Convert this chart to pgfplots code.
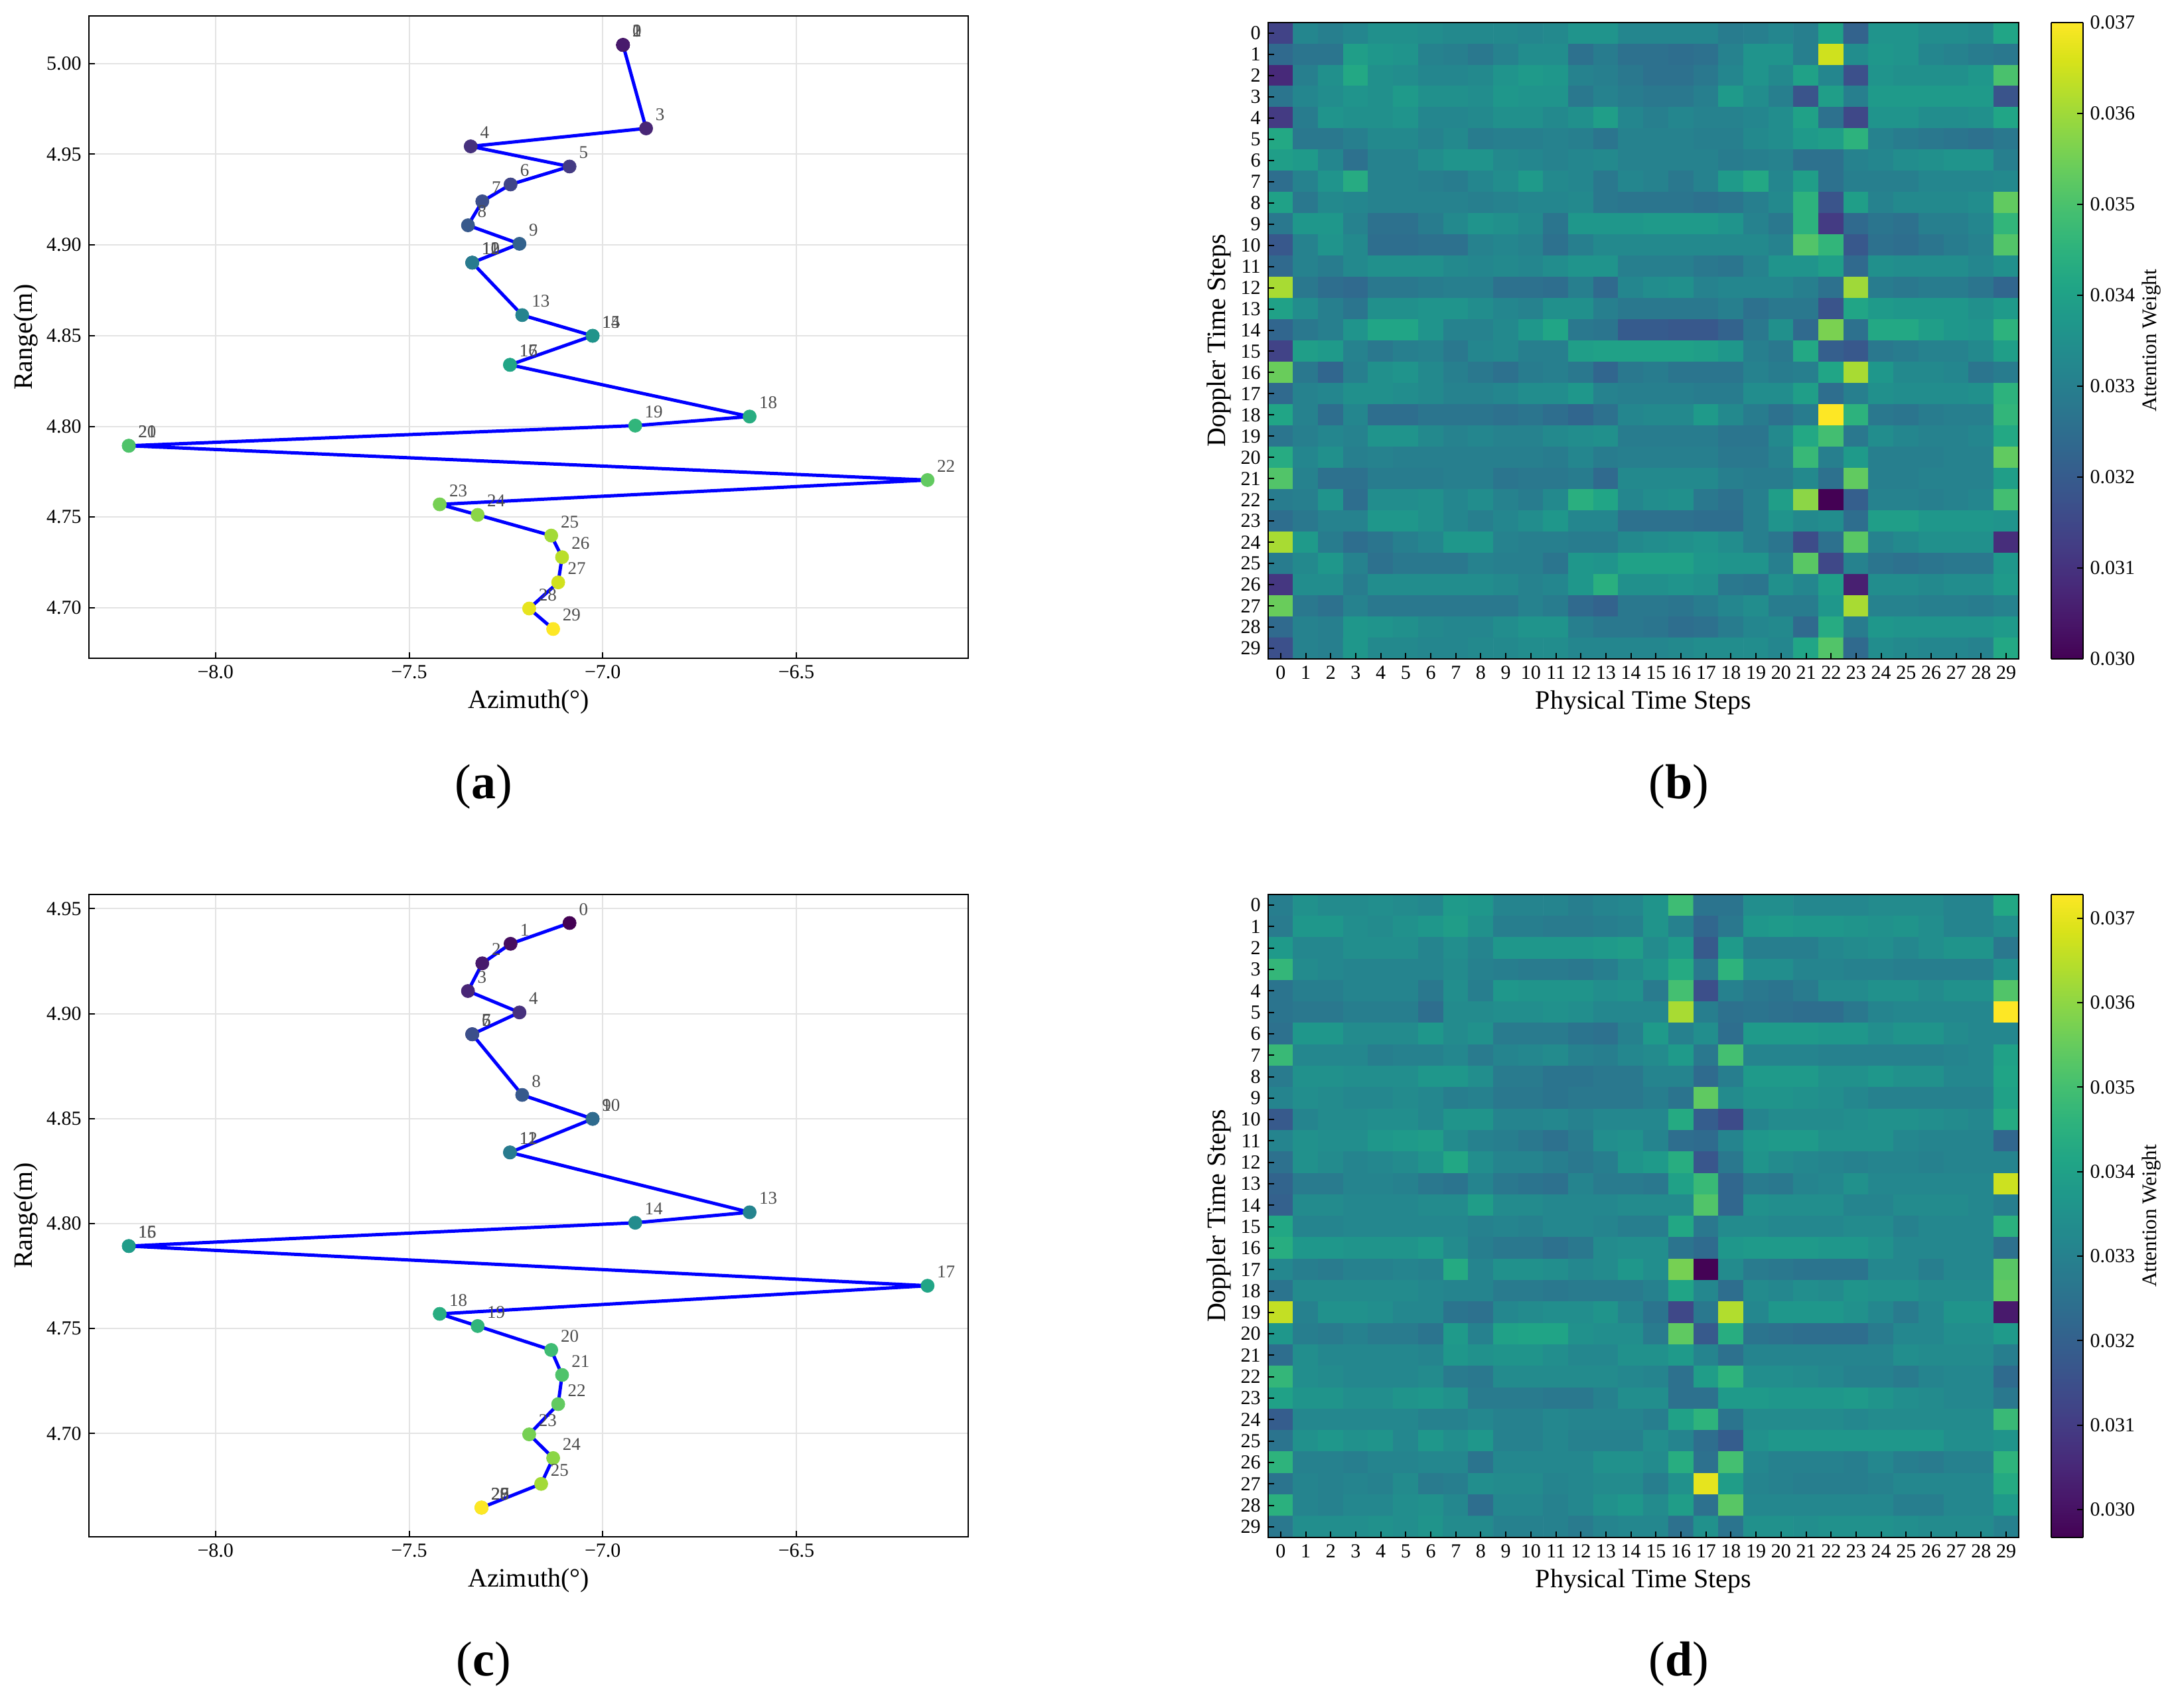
\documentclass[border=0pt]{standalone}
\usepackage{fontspec}
\setmainfont{Liberation Serif}
\usepackage{pgfplots}
\usepackage{pgfplotstable}
\pgfplotsset{compat=1.18}

% trajectories: index, azimuth, range
\pgfplotstableread{
i x y
0 -6.9476 5.0102
1 -6.9476 5.0102
2 -6.9476 5.0102
3 -6.888 4.9642
4 -7.341 4.9543
5 -7.0857 4.9432
6 -7.238 4.9333
7 -7.311 4.924
8 -7.348 4.9108
9 -7.215 4.9006
10 -7.337 4.8902
11 -7.337 4.8902
12 -7.337 4.8902
13 -7.208 4.8613
14 -7.026 4.8499
15 -7.026 4.8499
16 -7.2395 4.8339
17 -7.2395 4.8339
18 -6.6206 4.8054
19 -6.916 4.8004
20 -8.224 4.7893
21 -8.224 4.7893
22 -6.161 4.7704
23 -7.421 4.757
24 -7.323 4.7512
25 -7.133 4.7398
26 -7.105 4.7279
27 -7.115 4.714
28 -7.19 4.6996
29 -7.128 4.6883
}\traja

\pgfplotstableread{
i x y
0 -7.0857 4.9432
1 -7.238 4.9333
2 -7.311 4.924
3 -7.348 4.9108
4 -7.215 4.9006
5 -7.337 4.8902
6 -7.337 4.8902
7 -7.337 4.8902
8 -7.208 4.8613
9 -7.026 4.8499
10 -7.026 4.8499
11 -7.2395 4.8339
12 -7.2395 4.8339
13 -6.6206 4.8054
14 -6.916 4.8004
15 -8.224 4.7893
16 -8.224 4.7893
17 -6.161 4.7704
18 -7.421 4.757
19 -7.323 4.7512
20 -7.133 4.7398
21 -7.105 4.7279
22 -7.115 4.714
23 -7.19 4.6996
24 -7.128 4.6883
25 -7.159 4.676
26 -7.313 4.6647
27 -7.313 4.6647
28 -7.313 4.6647
29 -7.313 4.6647
}\trajc

% attention weights in units of 0.001, row by row
\pgfplotstableread[row sep=crcr]{
z\\
31.4\\33.2\\33.0\\33.2\\33.5\\33.5\\33.4\\33.3\\33.3\\33.3\\33.2\\33.3\\33.6\\33.6\\33.2\\33.2\\33.2\\33.2\\32.9\\33.0\\33.2\\33.0\\34.0\\32.2\\33.6\\33.6\\33.4\\33.4\\33.3\\34.1\\
32.4\\32.7\\32.7\\33.9\\33.7\\33.6\\33.1\\33.0\\32.8\\33.1\\33.4\\33.4\\32.6\\32.9\\32.6\\32.6\\32.5\\32.6\\33.1\\33.6\\33.6\\33.0\\36.5\\33.4\\33.7\\33.6\\33.2\\33.1\\32.9\\32.8\\
30.8\\33.0\\33.5\\34.2\\33.5\\33.4\\33.2\\33.2\\33.3\\33.6\\33.8\\33.7\\33.1\\33.0\\32.8\\32.6\\32.6\\32.8\\33.2\\33.6\\33.3\\34.0\\33.2\\31.7\\33.6\\33.5\\33.5\\33.5\\33.7\\35.0\\
32.7\\33.2\\33.4\\33.6\\33.5\\33.8\\33.5\\33.5\\33.4\\33.7\\33.6\\33.6\\32.8\\33.1\\32.9\\32.8\\32.8\\33.0\\33.8\\33.4\\33.0\\31.8\\33.9\\33.0\\33.8\\33.8\\33.8\\33.8\\33.8\\31.8\\
31.2\\32.9\\33.6\\33.5\\33.5\\33.6\\33.2\\33.2\\33.3\\33.5\\33.5\\33.3\\33.5\\33.9\\33.2\\33.0\\33.2\\33.1\\33.1\\33.2\\33.4\\34.0\\32.6\\31.5\\33.6\\33.6\\33.4\\33.4\\33.5\\34.1\\
34.2\\32.8\\32.8\\33.0\\33.3\\33.3\\33.1\\33.3\\32.9\\33.0\\33.0\\33.1\\33.0\\32.7\\33.1\\33.1\\33.1\\33.0\\33.0\\33.3\\33.4\\33.8\\33.9\\34.5\\33.1\\32.9\\32.8\\32.7\\32.6\\32.8\\
33.9\\33.8\\33.2\\32.6\\33.1\\33.1\\33.4\\33.6\\33.6\\33.3\\33.2\\33.1\\33.2\\33.3\\33.1\\33.1\\33.1\\33.1\\32.9\\33.0\\33.1\\32.6\\32.6\\33.1\\33.2\\33.4\\33.5\\33.6\\33.6\\33.0\\
32.5\\33.1\\33.6\\34.3\\33.1\\33.1\\33.0\\32.9\\33.2\\33.4\\33.8\\33.3\\33.2\\32.8\\33.2\\33.1\\32.8\\33.1\\33.8\\34.2\\33.2\\33.9\\32.6\\33.0\\33.0\\33.0\\33.2\\33.2\\33.2\\33.3\\
34.0\\32.8\\33.3\\33.2\\33.1\\33.1\\33.1\\33.1\\33.0\\33.1\\33.2\\33.2\\33.3\\32.8\\32.7\\32.7\\32.7\\32.6\\32.7\\33.0\\33.3\\34.5\\31.8\\33.9\\33.1\\33.3\\33.3\\33.3\\33.4\\35.3\\
32.8\\33.7\\33.7\\33.1\\32.6\\32.6\\32.9\\33.3\\33.6\\33.5\\33.3\\32.7\\33.7\\33.7\\33.7\\33.8\\33.8\\33.8\\33.6\\33.1\\32.8\\34.5\\31.2\\32.4\\32.7\\32.6\\33.0\\33.0\\33.2\\34.6\\
31.9\\33.1\\33.6\\33.3\\32.5\\32.5\\32.6\\32.6\\33.1\\33.2\\33.1\\32.6\\33.0\\33.3\\33.3\\33.3\\33.3\\33.3\\33.3\\33.3\\33.1\\35.1\\34.6\\31.9\\32.6\\32.5\\32.7\\32.9\\33.1\\35.1\\
32.4\\33.1\\32.9\\33.3\\33.5\\33.5\\33.5\\33.3\\33.2\\33.3\\33.2\\33.4\\33.6\\33.6\\33.0\\33.0\\33.0\\32.8\\32.7\\33.1\\33.6\\33.6\\33.9\\32.4\\33.5\\33.4\\33.4\\33.4\\33.2\\33.5\\
36.1\\32.8\\32.5\\32.4\\32.8\\32.8\\32.9\\33.0\\33.0\\32.6\\32.6\\32.5\\33.0\\32.4\\33.2\\33.4\\33.5\\33.1\\33.2\\33.2\\33.2\\33.0\\32.6\\36.0\\32.9\\32.8\\32.9\\32.9\\32.7\\32.3\\
34.0\\33.4\\33.0\\32.7\\33.5\\33.5\\33.6\\33.6\\33.4\\33.2\\33.1\\33.5\\33.5\\33.0\\32.8\\32.8\\32.8\\32.8\\33.0\\32.6\\32.8\\32.8\\31.8\\34.1\\33.8\\33.7\\33.7\\33.7\\33.5\\33.8\\
32.3\\32.8\\33.0\\33.6\\34.1\\34.1\\33.6\\33.1\\33.1\\33.3\\33.7\\34.1\\32.8\\32.7\\32.0\\32.0\\31.9\\31.9\\32.2\\32.8\\33.5\\32.4\\35.6\\32.6\\34.2\\34.2\\33.9\\33.7\\33.6\\34.5\\
31.4\\33.9\\33.8\\33.1\\32.8\\33.0\\33.1\\32.8\\33.2\\33.3\\33.0\\33.0\\33.9\\34.0\\34.0\\34.0\\34.0\\33.9\\33.7\\33.0\\32.8\\34.2\\32.1\\31.9\\32.8\\32.9\\33.1\\33.1\\33.3\\33.9\\
35.4\\32.8\\32.3\\33.0\\33.5\\33.6\\33.3\\33.0\\32.8\\32.6\\32.9\\33.0\\32.8\\32.3\\32.8\\32.9\\32.7\\32.7\\32.7\\33.1\\32.9\\33.0\\34.1\\36.1\\33.7\\33.3\\33.3\\33.2\\32.7\\32.9\\
32.4\\33.1\\33.2\\33.5\\33.5\\33.4\\33.3\\33.1\\33.1\\33.2\\33.4\\33.4\\33.7\\33.1\\33.0\\33.0\\33.0\\32.9\\32.9\\33.4\\33.4\\33.9\\32.5\\33.0\\33.5\\33.4\\33.4\\33.4\\33.5\\34.5\\
34.1\\33.1\\32.5\\33.2\\32.5\\32.5\\32.7\\32.7\\32.7\\32.6\\32.7\\32.5\\32.3\\32.6\\33.2\\33.3\\33.3\\33.8\\33.3\\32.9\\32.6\\32.9\\37.0\\34.5\\32.8\\32.7\\32.9\\33.0\\33.0\\34.6\\
32.7\\33.0\\33.2\\33.1\\33.6\\33.6\\33.3\\33.1\\33.2\\33.1\\33.1\\33.3\\33.4\\33.5\\32.9\\32.9\\32.9\\32.9\\32.7\\32.7\\33.3\\34.2\\34.9\\32.8\\33.4\\33.2\\33.1\\33.1\\33.2\\34.2\\
34.3\\33.2\\33.5\\33.0\\33.1\\33.0\\33.0\\33.0\\33.0\\33.0\\33.0\\32.9\\33.2\\32.9\\33.0\\33.0\\33.0\\33.0\\32.8\\32.8\\33.1\\34.7\\33.0\\33.8\\33.0\\33.0\\33.0\\33.1\\33.1\\35.3\\
35.1\\33.1\\32.6\\32.6\\32.9\\32.9\\32.9\\33.0\\33.0\\32.7\\32.8\\32.8\\32.9\\32.4\\33.3\\33.3\\33.3\\33.3\\33.0\\32.9\\32.9\\33.3\\32.6\\35.3\\33.0\\33.0\\33.1\\33.1\\33.1\\33.9\\
32.9\\33.0\\33.6\\32.5\\33.4\\33.4\\33.5\\33.2\\33.4\\33.1\\32.9\\33.3\\34.4\\34.1\\33.2\\33.4\\33.5\\32.8\\32.6\\33.0\\33.9\\35.8\\30.0\\32.1\\33.1\\33.1\\33.0\\33.1\\33.2\\34.9\\
32.5\\32.8\\33.1\\33.1\\33.7\\33.7\\33.5\\33.2\\33.0\\33.2\\33.4\\33.7\\33.2\\33.2\\32.6\\32.6\\32.6\\32.5\\32.5\\33.0\\33.6\\33.3\\33.4\\32.5\\33.9\\33.9\\33.7\\33.7\\33.7\\33.6\\
36.1\\33.8\\32.9\\32.5\\32.7\\33.0\\33.2\\33.7\\33.7\\33.1\\33.0\\33.0\\32.9\\32.9\\33.3\\33.4\\33.5\\33.6\\33.4\\33.0\\32.7\\31.6\\32.6\\35.2\\33.1\\33.3\\33.5\\33.5\\33.5\\30.9\\
32.9\\33.3\\33.7\\33.1\\32.6\\32.8\\32.8\\32.8\\33.1\\33.0\\33.0\\32.7\\33.7\\33.6\\34.0\\34.0\\34.0\\33.7\\33.6\\33.6\\33.0\\35.2\\31.5\\33.1\\32.7\\32.6\\32.7\\32.8\\32.8\\33.7\\
31.1\\33.4\\33.4\\32.9\\33.4\\33.4\\33.4\\33.4\\33.4\\33.3\\33.1\\33.2\\33.7\\34.4\\33.5\\33.5\\33.6\\33.5\\32.8\\32.7\\33.5\\33.2\\33.9\\30.6\\33.4\\33.4\\33.3\\33.4\\33.4\\33.8\\
35.4\\32.8\\32.6\\33.1\\32.8\\32.8\\32.8\\32.8\\32.8\\32.8\\33.1\\32.9\\32.4\\32.2\\32.8\\32.8\\32.7\\32.9\\33.2\\33.4\\32.9\\32.9\\33.7\\36.1\\33.1\\33.1\\33.0\\33.0\\32.9\\33.1\\
32.4\\33.1\\33.0\\33.7\\33.6\\33.5\\33.3\\33.2\\33.2\\33.4\\33.6\\33.6\\33.0\\32.8\\32.8\\32.7\\32.5\\32.6\\32.9\\33.2\\33.3\\32.4\\34.3\\32.9\\33.7\\33.6\\33.6\\33.6\\33.6\\33.8\\
31.7\\33.1\\33.0\\33.7\\33.3\\33.3\\33.2\\33.2\\33.3\\33.3\\33.4\\33.4\\33.2\\33.2\\33.2\\33.2\\33.3\\33.4\\33.4\\33.4\\33.2\\34.1\\35.1\\32.4\\33.4\\33.3\\33.2\\33.2\\33.1\\34.2\\
}\matb

\pgfplotstableread[row sep=crcr]{
z\\
32.9\\33.5\\33.3\\33.3\\33.4\\33.3\\33.2\\33.8\\33.7\\33.1\\33.1\\33.1\\32.9\\33.1\\33.2\\33.6\\34.9\\32.6\\32.6\\33.4\\33.4\\33.2\\33.2\\33.2\\33.3\\33.3\\33.3\\33.1\\33.1\\34.2\\
32.8\\33.7\\33.7\\33.4\\33.3\\33.5\\33.7\\33.9\\33.5\\32.9\\32.9\\32.8\\32.8\\32.9\\33.0\\33.6\\33.0\\32.2\\32.7\\33.7\\33.8\\33.7\\33.7\\33.6\\33.5\\33.6\\33.4\\33.1\\33.1\\33.4\\
33.8\\33.2\\33.2\\33.4\\33.4\\33.4\\33.1\\33.4\\33.1\\33.7\\33.7\\33.7\\33.7\\33.8\\33.9\\33.3\\33.8\\31.8\\33.8\\32.9\\32.9\\32.9\\33.2\\33.3\\33.4\\33.2\\33.4\\33.6\\33.6\\32.7\\
34.7\\33.3\\33.2\\33.1\\33.1\\33.1\\33.1\\33.3\\33.0\\32.9\\32.8\\32.8\\32.7\\32.9\\33.3\\33.6\\34.3\\32.7\\34.6\\33.4\\33.4\\33.1\\33.1\\33.0\\33.0\\32.9\\32.9\\32.9\\32.9\\33.5\\
32.6\\32.9\\32.9\\33.1\\33.1\\33.1\\32.7\\33.4\\32.9\\33.7\\33.6\\33.6\\33.6\\33.4\\33.5\\32.8\\35.0\\31.5\\33.0\\32.7\\32.6\\32.8\\33.3\\33.3\\33.5\\33.5\\33.3\\33.5\\33.5\\35.2\\
32.6\\32.7\\32.7\\32.9\\32.9\\32.9\\32.4\\33.3\\33.3\\33.4\\33.4\\33.5\\33.4\\33.2\\33.2\\33.2\\36.3\\32.9\\32.5\\32.6\\32.5\\32.4\\32.4\\32.7\\33.1\\33.2\\33.2\\33.2\\33.2\\37.3\\
32.5\\33.7\\33.7\\33.3\\33.3\\33.3\\33.7\\33.3\\33.5\\32.8\\32.8\\32.8\\32.6\\32.5\\33.0\\33.8\\33.0\\33.4\\32.4\\33.8\\33.8\\33.8\\33.7\\33.7\\33.4\\33.6\\33.6\\33.3\\33.2\\33.2\\
34.8\\33.2\\33.2\\33.2\\32.9\\33.0\\33.0\\33.2\\32.8\\33.1\\33.2\\33.3\\33.0\\32.9\\33.2\\33.3\\33.8\\32.7\\35.0\\33.1\\33.1\\33.1\\33.0\\33.0\\33.0\\33.0\\33.0\\33.1\\33.2\\34.0\\
32.8\\33.5\\33.5\\33.4\\33.4\\33.4\\33.7\\33.7\\33.4\\32.8\\32.8\\32.6\\32.6\\32.7\\32.7\\33.1\\33.1\\32.3\\32.9\\33.8\\33.8\\33.8\\33.5\\33.5\\33.7\\33.5\\33.5\\33.2\\33.2\\34.1\\
33.1\\33.4\\33.3\\33.2\\33.2\\33.3\\33.2\\32.9\\33.0\\32.7\\32.7\\32.6\\32.7\\32.7\\32.7\\32.9\\32.6\\35.4\\33.3\\33.6\\33.6\\33.5\\33.4\\33.2\\33.0\\33.0\\33.0\\33.0\\33.0\\34.0\\
31.8\\33.1\\33.3\\33.3\\33.4\\33.4\\33.2\\33.6\\33.6\\33.1\\33.1\\33.2\\33.0\\33.2\\33.2\\33.2\\34.3\\31.9\\31.4\\33.1\\33.3\\33.3\\33.3\\33.4\\33.5\\33.5\\33.4\\33.3\\33.2\\34.3\\
33.1\\33.5\\33.4\\33.4\\33.7\\33.8\\33.9\\33.3\\33.0\\32.9\\32.7\\32.5\\32.8\\33.4\\33.5\\33.1\\32.4\\32.3\\33.1\\33.7\\33.8\\33.8\\33.5\\33.5\\33.5\\33.2\\33.1\\33.1\\33.1\\32.2\\
32.5\\33.5\\33.3\\33.1\\33.2\\33.3\\33.6\\34.2\\33.4\\33.1\\33.1\\32.9\\32.7\\32.9\\33.6\\33.8\\34.4\\31.7\\32.7\\33.6\\33.3\\33.2\\33.1\\33.0\\33.1\\33.1\\33.0\\33.1\\33.1\\33.1\\
32.1\\32.8\\32.8\\33.1\\33.1\\33.0\\32.7\\32.6\\33.1\\32.7\\32.6\\32.5\\33.1\\32.8\\32.8\\32.7\\34.0\\34.8\\32.2\\32.8\\32.7\\33.1\\33.2\\33.5\\33.2\\33.2\\33.2\\33.2\\33.2\\36.7\\
32.0\\33.3\\33.3\\33.2\\33.2\\33.2\\33.3\\33.3\\33.9\\33.3\\33.3\\33.2\\33.2\\33.2\\33.3\\33.3\\33.3\\35.2\\32.2\\33.5\\33.4\\33.4\\33.4\\33.1\\33.1\\33.3\\33.3\\33.3\\33.2\\32.9\\
34.2\\33.1\\33.1\\33.2\\33.2\\33.2\\33.2\\33.2\\33.0\\33.1\\33.0\\33.2\\33.2\\33.1\\32.9\\32.9\\34.2\\32.7\\33.3\\33.3\\33.2\\33.2\\33.2\\33.3\\33.3\\33.0\\33.2\\33.2\\33.2\\34.5\\
34.4\\33.7\\33.7\\33.6\\33.6\\33.6\\33.8\\33.3\\32.9\\32.7\\32.7\\32.5\\32.7\\33.3\\33.4\\33.4\\32.6\\32.3\\33.7\\33.8\\33.8\\33.8\\33.7\\33.7\\33.5\\33.2\\33.2\\33.2\\33.2\\32.5\\
33.2\\32.9\\32.8\\33.0\\33.0\\33.1\\33.0\\34.3\\33.1\\33.5\\33.5\\33.4\\33.2\\33.3\\33.7\\33.4\\35.7\\29.7\\33.3\\32.8\\32.7\\32.6\\32.6\\32.6\\33.2\\33.2\\32.9\\33.2\\33.2\\35.3\\
32.6\\33.3\\33.3\\33.3\\33.3\\33.3\\33.2\\33.1\\33.1\\32.8\\32.8\\32.7\\32.8\\32.8\\32.8\\33.0\\34.1\\33.2\\32.4\\33.3\\33.2\\33.4\\33.3\\33.6\\33.5\\33.5\\33.3\\33.3\\33.3\\35.4\\
36.6\\33.0\\33.5\\33.5\\33.4\\33.2\\33.2\\32.6\\32.5\\33.2\\33.3\\33.4\\33.4\\33.6\\33.1\\32.6\\31.3\\32.7\\36.4\\33.2\\33.7\\33.7\\33.7\\33.5\\33.2\\32.8\\33.2\\33.6\\33.6\\30.2\\
33.7\\32.9\\32.8\\33.0\\32.8\\32.8\\32.6\\33.8\\33.0\\34.0\\34.1\\34.1\\33.5\\33.4\\33.4\\32.8\\35.4\\31.8\\34.4\\32.6\\32.5\\32.4\\32.4\\32.4\\32.8\\33.2\\33.2\\33.4\\33.4\\33.8\\
32.4\\33.4\\33.2\\33.2\\33.2\\33.2\\33.1\\33.7\\33.5\\33.6\\33.6\\33.4\\33.2\\33.2\\33.5\\33.5\\33.8\\33.1\\32.5\\33.1\\33.1\\33.1\\33.1\\33.1\\33.1\\33.4\\33.3\\33.3\\33.3\\32.9\\
34.7\\33.4\\33.3\\33.2\\33.2\\33.2\\33.3\\32.8\\32.7\\33.3\\33.3\\33.3\\33.3\\33.3\\33.2\\33.1\\32.5\\33.9\\34.6\\33.4\\33.4\\33.3\\33.2\\33.0\\33.0\\32.8\\33.1\\33.2\\33.2\\32.3\\
34.0\\33.6\\33.6\\33.4\\33.4\\33.6\\33.7\\33.5\\32.8\\32.8\\32.8\\32.7\\32.7\\33.0\\33.4\\33.4\\32.5\\32.5\\33.8\\33.8\\33.7\\33.7\\33.7\\33.8\\33.6\\33.4\\33.3\\33.2\\33.2\\32.7\\
31.9\\33.2\\33.2\\33.2\\33.2\\33.2\\33.0\\33.0\\33.2\\33.0\\33.0\\33.2\\33.1\\33.1\\33.1\\32.9\\34.0\\34.6\\32.6\\33.3\\33.3\\33.3\\33.3\\33.2\\33.3\\33.3\\33.3\\33.3\\33.3\\34.8\\
32.6\\33.5\\33.7\\33.5\\33.6\\33.2\\33.7\\33.4\\33.7\\33.0\\33.0\\33.2\\33.0\\33.0\\33.0\\33.4\\33.1\\32.4\\31.9\\33.5\\33.7\\33.7\\33.7\\33.7\\33.7\\33.7\\33.7\\33.4\\33.4\\33.6\\
34.6\\33.0\\33.0\\32.9\\33.1\\33.1\\33.2\\33.2\\32.6\\33.2\\33.2\\33.2\\33.2\\33.5\\33.5\\33.3\\34.4\\32.5\\35.0\\33.2\\33.0\\33.0\\33.0\\32.9\\33.2\\32.9\\32.8\\33.0\\33.0\\34.6\\
32.6\\33.1\\33.0\\33.1\\33.0\\33.3\\32.8\\32.9\\33.4\\33.3\\33.3\\33.1\\33.2\\33.3\\33.3\\32.9\\33.5\\37.0\\33.9\\33.1\\33.0\\32.9\\32.9\\32.9\\33.0\\33.2\\33.2\\33.2\\33.2\\34.3\\
34.5\\33.1\\33.0\\33.2\\33.2\\33.4\\33.5\\33.2\\32.4\\33.2\\33.2\\33.0\\33.2\\33.5\\33.7\\33.3\\33.9\\32.5\\35.3\\33.2\\33.2\\33.2\\33.2\\33.2\\33.2\\32.9\\32.9\\33.2\\33.2\\33.8\\
32.7\\33.4\\33.4\\33.4\\33.5\\33.4\\33.6\\33.3\\33.3\\33.0\\33.0\\33.0\\32.8\\33.1\\33.2\\33.2\\32.5\\33.5\\32.6\\33.5\\33.5\\33.4\\33.5\\33.5\\33.5\\33.4\\33.3\\33.3\\33.3\\33.0\\
}\matd

\pgfplotsset{
  common/.style={
    scale only axis,
    anchor=south west,
    axis line style={line width=1pt},
    tick align=inside,
    major tick length=4.5pt,
    every tick/.style={black,line width=1pt},
    tick label style={font=\fontsize{15}{15}\selectfont,inner sep=0pt},
    xticklabel style={yshift=-5pt},
    yticklabel style={xshift=-5.5pt},
    /pgf/number format/assume math mode=true,
  },
  traj/.style={
    common,
    width=662.5pt,height=484pt,
    tick pos=left,
    xmin=-8.327,xmax=-6.056,
    xtick={-8,-7.5,-7,-6.5},
    xticklabels={−8.0,−7.5,−7.0,−6.5},
    grid=major,
    grid style={black!11,line width=1pt},
    xlabel={Azimuth(°)},
    ylabel={Range(m)},
    every axis x label/.style={at={(axis description cs:0.5,0)},anchor=center,yshift=-33pt,
      font=\fontsize{20}{20}\selectfont},
    every axis y label/.style={at={(axis description cs:0,0.5)},anchor=center,xshift=-47.5pt,rotate=90,
      font=\fontsize{20}{20}\selectfont},
    colormap/viridis,
    point meta min=0,point meta max=29,
    clip=false,
  },
  dots/.style={
    scatter,only marks,mark=*,mark size=5pt,
    scatter/use mapped color={draw=mapped color,fill=mapped color},
    point meta=explicit,
    nodes near coords*={\pgfmathprintnumber[fixed,precision=0,assume math mode=true]{\pgfplotspointmeta}},
    every node near coord/.style={anchor=base west,inner sep=0pt,xshift=7pt,yshift=6pt,
      font=\fontsize{13.5}{13.5}\selectfont,text=black!70},
  },
  path line/.style={blue,line width=2.5pt,line join=round,mark=none},
  heat/.style={
    common,
    width=565.5pt,
    y dir=reverse,
    axis on top,
    enlargelimits=false,
    tick pos=left,
    xmin=-0.5,xmax=29.5,ymin=-0.5,ymax=29.5,
    xtick={0,...,29},ytick={0,...,29},
    /pgf/number format/fixed,/pgf/number format/precision=0,
    xlabel={Physical Time Steps},
    ylabel={Doppler Time Steps},
    every axis x label/.style={at={(axis description cs:0.5,0)},anchor=center,yshift=-33pt,
      font=\fontsize{20}{20}\selectfont},
    every axis y label/.style={at={(axis description cs:0,0.5)},anchor=center,xshift=-37pt,rotate=90,
      font=\fontsize{20}{20}\selectfont},
    colormap/viridis,
    colorbar sampled,
  },
  cbar/.style={
    colorbar style={
      scale only axis,
      samples=256,
      width=24pt,
      at={(parent axis.north east)},anchor=north west,xshift=16pt,
      axis line style={line width=1pt},
      ytick pos=right,yticklabel pos=right,
      tick align=inside,
      major tick length=4.5pt,
      every tick/.style={black,line width=1pt},
      ytick={30,...,37},
      yticklabels={0.030,0.031,0.032,0.033,0.034,0.035,0.036,0.037},
      yticklabel style={font=\fontsize{15}{15}\selectfont,inner sep=0pt,xshift=5pt},
      ylabel={Attention Weight},
      every axis y label/.style={at={(axis description cs:1,0.5)},anchor=center,xshift=51.5pt,rotate=90,
        font=\fontsize{15.6}{15.6}\selectfont},
    },
  },
}

\begin{document}
\begin{tikzpicture}[x=1pt,y=1pt]
\path[use as bounding box] (0,0) rectangle (1638,1287);

% (a)
\begin{axis}[traj,at={(67pt,791pt)},
  ymin=4.6722,ymax=5.0262,
  ytick={4.7,4.75,4.8,4.85,4.9,4.95,5},
  yticklabels={4.70,4.75,4.80,4.85,4.90,4.95,5.00}]
\addplot[dots] table[x=x,y=y,meta=i]{\traja};
\addplot[path line] table[x=x,y=y]{\traja};
\end{axis}

% (b)
\begin{axis}[heat,cbar,at={(955.5pt,790.5pt)},height=479.5pt,
  point meta min=30,point meta max=37]
\addplot[matrix plot*,mesh/cols=30,point meta=explicit]
  table[x index=0,y index=0,x expr={mod(\coordindex,30)},y expr={floor((\coordindex+0.5)/30)},meta=z]{\matb};
\end{axis}

% (c)
\begin{axis}[traj,at={(67pt,129pt)},
  ymin=4.6508,ymax=4.9568,
  ytick={4.7,4.75,4.8,4.85,4.9,4.95},
  yticklabels={4.70,4.75,4.80,4.85,4.90,4.95}]
\addplot[dots] table[x=x,y=y,meta=i]{\trajc};
\addplot[path line] table[x=x,y=y]{\trajc};
\end{axis}

% (d)
\begin{axis}[heat,cbar,at={(955.5pt,128.5pt)},height=484.5pt,
  point meta min=29.67,point meta max=37.28]
\addplot[matrix plot*,mesh/cols=30,point meta=explicit]
  table[x index=0,y index=0,x expr={mod(\coordindex,30)},y expr={floor((\coordindex+0.5)/30)},meta=z]{\matd};
\end{axis}

\node[font=\fontsize{37}{37}\selectfont] at (364.5,694) {(\textbf{a})};
\node[font=\fontsize{37}{37}\selectfont] at (1265,694) {(\textbf{b})};
\node[font=\fontsize{37}{37}\selectfont] at (364.5,33) {(\textbf{c})};
\node[font=\fontsize{37}{37}\selectfont] at (1265,33) {(\textbf{d})};
\end{tikzpicture}
\end{document}
